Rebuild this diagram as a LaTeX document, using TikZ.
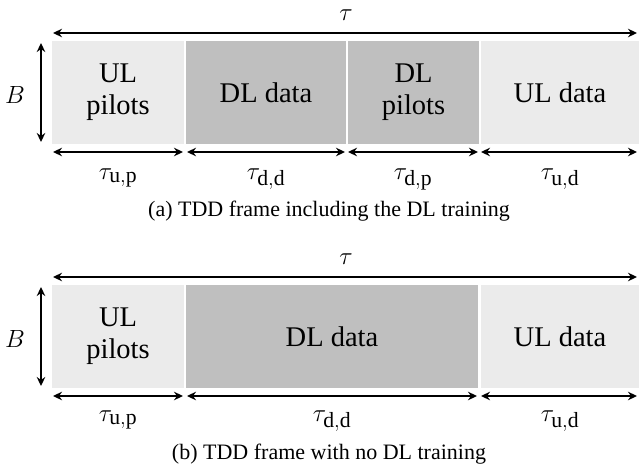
\documentclass[tikz,border=0pt]{standalone}
\usepackage{fontspec}
\setmainfont{Liberation Serif}
\usetikzlibrary{arrows.meta}
\definecolor{ullight}{HTML}{EBEBEB}
\definecolor{dldark}{HTML}{BFBFBF}
\tikzset{
  seg/.style={inner sep=0pt, outer sep=0pt, align=center, minimum height=103pt,
              font=\fontsize{28.5}{32}\selectfont},
  ulseg/.style={seg, fill=ullight},
  dlseg/.style={seg, fill=dldark},
  dim/.style={line width=1.4pt, {Stealth[length=9pt,width=8.5pt]}-{Stealth[length=9pt,width=8.5pt]}},
  tlab/.style={anchor=base, inner sep=0pt, font=\fontsize{31}{35}\selectfont},
  blab/.style={anchor=base, inner sep=0pt, font=\fontsize{24}{29}\selectfont},
  captext/.style={anchor=base, inner sep=0pt, font=\fontsize{22}{26}\selectfont}
}
\begin{document}
\begin{tikzpicture}[x=1pt,y=-1pt]
\useasboundingbox (0,0) rectangle (639,468);
% ---------------- (a) ----------------
\node[ulseg, minimum width=132pt] (ulpA) at (118,92.5) {UL\\pilots};
\node[dlseg, minimum width=160pt] (dldA) at (266,92.5) {DL data};
\node[dlseg, minimum width=131pt] (dlpA) at (413.5,92.5) {DL\\pilots};
\node[ulseg, minimum width=158pt] (uldA) at (560,92.5) {UL data};
% overall tau
\coordinate (aTL) at (53,33);
\coordinate (aTR) at (637,33);
\draw[dim] (aTL) -- (aTR);
\node[tlab] (tauA) at (346,21) {$\tau$};
% B
\coordinate (aBT) at (41,43);
\coordinate (aBB) at (41,142);
\draw[dim] (aBT) -- (aBB);
\node[blab] (bA) at (15,103) {$B$};
% bottom arrows
\coordinate (a1) at (53,152);
\coordinate (a2) at (183,152);
\coordinate (a3) at (187,152);
\coordinate (a4) at (345,152);
\coordinate (a5) at (348,152);
\coordinate (a6) at (478,152);
\coordinate (a7) at (481,152);
\coordinate (a8) at (637,152);
\draw[dim] (a1) -- (a2);
\draw[dim] (a3) -- (a4);
\draw[dim] (a5) -- (a6);
\draw[dim] (a7) -- (a8);
\node[tlab] (tupA) at (118,179) {$\tau_{\mathrm{u,p}}$};
\node[tlab] (tddA) at (266,179) {$\tau_{\mathrm{d,d}}$};
\node[tlab] (tdpA) at (413,179) {$\tau_{\mathrm{d,p}}$};
\node[tlab] (tudA) at (560,179) {$\tau_{\mathrm{u,d}}$};
\node[captext] (capA) at (329,216) {(a) TDD frame including the DL training};
% ---------------- (b) ----------------
\node[ulseg, minimum width=132pt] (ulpB) at (118,336.5) {UL\\pilots};
\node[dlseg, minimum width=292pt] (dldB) at (332,336.5) {DL data};
\node[ulseg, minimum width=158pt] (uldB) at (560,336.5) {UL data};
\coordinate (bTL) at (53,277);
\coordinate (bTR) at (637,277);
\draw[dim] (bTL) -- (bTR);
\node[tlab] (tauB) at (346,264) {$\tau$};
\coordinate (bBT) at (41,287);
\coordinate (bBB) at (41,386);
\draw[dim] (bBT) -- (bBB);
\node[blab] (bB) at (15,347) {$B$};
\coordinate (b1) at (53,396);
\coordinate (b2) at (183,396);
\coordinate (b3) at (187,396);
\coordinate (b4) at (477,396);
\coordinate (b5) at (481,396);
\coordinate (b6) at (637,396);
\draw[dim] (b1) -- (b2);
\draw[dim] (b3) -- (b4);
\draw[dim] (b5) -- (b6);
\node[tlab] (tupB) at (118,421) {$\tau_{\mathrm{u,p}}$};
\node[tlab] (tddB) at (332,421) {$\tau_{\mathrm{d,d}}$};
\node[tlab] (tudB) at (560,421) {$\tau_{\mathrm{u,d}}$};
\node[captext] (capB) at (329,459) {(b) TDD frame with no DL training};
\end{tikzpicture}
\end{document}
